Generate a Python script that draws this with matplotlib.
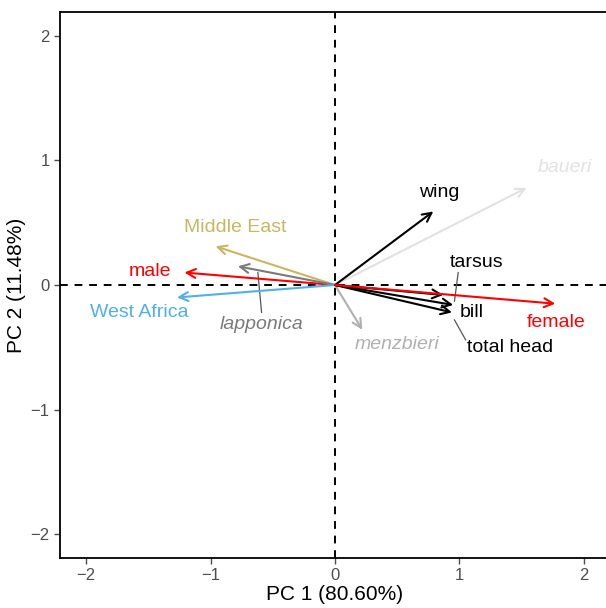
import matplotlib.pyplot as plt

plt.rcParams['font.family'] = ['Liberation Sans', 'DejaVu Sans']

# arrow tips (PC1, PC2)
names = ['male', 'Middle East', 'lapponica', 'West Africa', 'menzbieri', 'baueri',
         'wing', 'tarsus', 'bill', 'total head', 'female']
pc1 = [-1.21, -0.96, -0.78, -1.27, 0.22, 1.54, 0.79, 0.87, 0.95, 0.94, 1.77]
pc2 = [0.10, 0.31, 0.15, -0.10, -0.36, 0.78, 0.59, -0.08, -0.16, -0.22, -0.15]
# label positions
lab_x = [-1.49, -0.80, -0.59, -1.57, 0.50, 1.85, 0.84, 1.14, 1.10, 1.41, 1.78]
lab_y = [0.11, 0.46, -0.32, -0.22, -0.48, 0.94, 0.74, 0.18, -0.22, -0.50, -0.30]
colors = ['#ff0000', '#c9b660', '#7a7a7a', '#4fb0ea', '#b0b0b0', '#e2e2e2',
          'black', 'black', 'black', 'black', '#ff0000']
italic = [False, False, True, False, True, True, False, False, False, False, False]
# leader lines: (label end, arrow point)
leaders = {'lapponica': ((-0.59, -0.22), (-0.62, 0.10)),
           'tarsus': ((0.99, 0.10), (0.96, -0.13)),
           'total head': ((1.05, -0.44), (0.96, -0.28))}

fig = plt.figure(figsize=(6.06, 6.08), dpi=100)
ax = fig.add_axes([60/606, 50/608, 550/606, 546/608])

ax.axhline(0, color='black', ls=(0, (4, 3.5)), lw=1.4, zorder=1)
ax.axvline(0, color='black', ls=(0, (4, 3.5)), lw=1.4, zorder=1)

for i in range(len(names)):
    ax.annotate('', xy=(pc1[i], pc2[i]), xytext=(0, 0),
                arrowprops=dict(arrowstyle='->', color=colors[i], lw=1.5,
                                mutation_scale=16, shrinkA=0, shrinkB=0))
    ax.text(lab_x[i], lab_y[i], names[i], color=colors[i], fontsize=14,
            style='italic' if italic[i] else 'normal', ha='center', va='center')

for k, (p0, p1) in leaders.items():
    ax.plot([p0[0], p1[0]], [p0[1], p1[1]], color='#555555', lw=0.9)

ax.set_xlim(-2.21, 2.21)
ax.set_ylim(-2.19, 2.19)
ax.set_xticks([-2, -1, 0, 1, 2])
ax.set_yticks([-2, -1, 0, 1, 2])
ax.set_xticklabels(['\u22122', '\u22121', '0', '1', '2'])
ax.set_yticklabels(['\u22122', '\u22121', '0', '1', '2'])
ax.tick_params(colors='#4d4d4d', labelsize=12, length=4, width=1)
for s in ax.spines.values():
    s.set_linewidth(1.3)
ax.set_xlabel('PC 1 (80.60%)', fontsize=15, labelpad=1)
ax.set_ylabel('PC 2 (11.48%)', fontsize=15, labelpad=3)

fig.savefig('out.png', dpi=100)
